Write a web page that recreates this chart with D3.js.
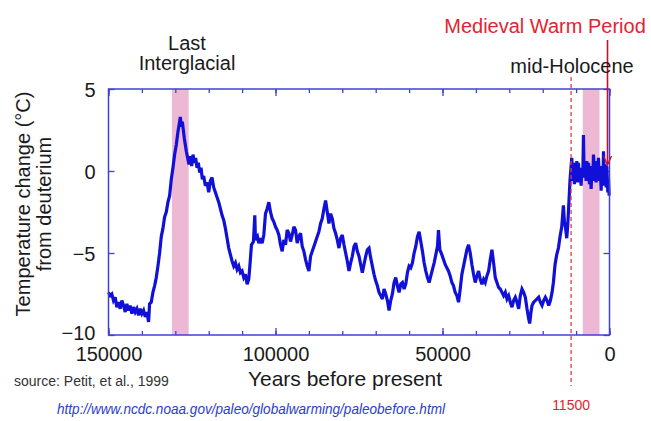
<!DOCTYPE html>
<html>
<head>
<meta charset="utf-8">
<script src="https://cdn.jsdelivr.net/npm/d3@7"></script>
<style>
  body { margin: 0; background: #fff; }
  text { font-family: "Liberation Sans", Arial, Helvetica, sans-serif; }
</style>
</head>
<body>
<div id="content"></div>
<script>
// Vostok deuterium temperature record (years BP, degC)
var years = [150000,149500,149000,148500,148000,147500,147000,146500,146000,145500,145000,144500,144000,143500,143000,142500,142000,141500,141000,140500,140000,139500,139000,138500,138000,137700,137200,136700,136200,135700,135200,134700,134200,133700,133200,132700,132200,131700,131200,130700,130200,129700,129200,128800,128500,128200,127900,127600,127300,127000,126700,126300,125900,125500,125100,124700,124300,123900,123500,123100,122700,122300,121900,121500,121000,120500,120000,119500,119000,118500,118000,117500,117000,116500,116000,115500,115000,114500,114000,113500,113000,112500,112000,111500,111000,110500,110000,109500,109000,108500,108000,107600,107200,106600,106200,106000,105400,105000,104500,104000,103500,103000,102500,102000,101500,101000,100500,100000,99500,99000,98500,98000,97500,97000,96500,96000,95500,95000,94500,94000,93500,93000,92500,92000,91500,91000,90500,90000,89500,89000,88500,88000,87500,87000,86500,86000,85500,85000,84500,84000,83500,83000,82500,82000,81500,81000,80500,80000,79500,79000,78500,78000,77500,77000,76500,76000,75500,75000,74500,74000,73500,73000,72500,72000,71500,71000,70500,70000,69500,69000,68500,68000,67500,67000,66500,66000,65500,65000,64500,64000,63500,63000,62500,62000,61500,61000,60500,60000,59500,59000,58500,58000,57500,57000,56500,56000,55500,55000,54500,54000,53500,53000,52500,52000,51500,51200,50800,50200,49700,49200,48700,48200,47700,47200,46700,46200,45700,45200,44700,44200,43700,43200,42700,42200,41700,41200,40700,40200,39700,39200,38700,38200,37700,37200,36700,36200,35700,35200,34700,34200,33700,33200,32700,32200,31700,31200,30700,30200,29700,29200,28700,28200,27700,27200,26700,26200,25700,25200,24700,24200,23900,23500,23200,22700,22200,21700,21200,20700,20200,19700,19200,18700,18200,17700,17200,16800,16300,15800,15300,14800,14300,13800,13500,13200,12800,12500,12300,11800,11300,11000,10800,10500,10300,10000,9800,9500,9300,9000,8800,8500,8300,8000,7800,7600,7300,7000,6800,6500,6300,6000,5800,5500,5300,5000,4800,4500,4300,4000,3800,3500,3300,3000,2800,2500,2300,2000,1800,1500,1300,1000,800,500,300,100];
var temps = [-7.4,-7.6,-7.5,-7.9,-7.7,-8.3,-8.0,-8.4,-7.9,-8.2,-8.6,-8.1,-8.5,-8.2,-8.7,-8.3,-8.6,-8.4,-8.8,-8.4,-8.7,-8.5,-8.9,-8.6,-9.2,-8.1,-8.0,-7.4,-7.0,-6.5,-5.8,-5.0,-4.0,-3.5,-2.8,-2.5,-1.9,-1.5,-0.5,0.2,1.0,1.6,2.4,2.9,3.3,2.7,3.0,2.5,2.0,1.6,1.2,0.8,0.4,0.9,0.3,1.0,0.5,0.8,0.2,0.5,-0.1,0.2,-0.5,-0.3,-0.9,-0.7,-1.3,-0.6,-0.4,-1.0,-1.3,-1.6,-1.9,-2.3,-2.7,-3.0,-3.5,-4.1,-4.7,-5.1,-5.5,-5.8,-5.6,-6.0,-5.8,-6.2,-6.1,-6.5,-6.3,-6.9,-6.6,-5.6,-4.5,-4.3,-2.7,-4.2,-4.0,-4.4,-4.1,-4.4,-3.9,-2.6,-2.3,-1.9,-2.5,-2.9,-3.1,-3.4,-3.6,-3.9,-4.5,-4.9,-4.2,-4.5,-3.6,-3.8,-4.3,-3.9,-3.4,-3.6,-4.4,-4.0,-3.8,-4.6,-4.9,-5.4,-5.8,-6.1,-5.2,-4.9,-4.6,-4.3,-4.0,-3.7,-3.2,-2.9,-2.3,-1.8,-2.5,-3.2,-2.6,-2.9,-3.5,-3.8,-4.2,-4.7,-4.1,-3.9,-4.5,-5.0,-5.5,-6.1,-5.6,-5.2,-4.6,-4.4,-4.9,-5.2,-5.7,-6.2,-5.7,-5.2,-4.8,-4.7,-5.3,-5.8,-6.3,-6.7,-7.0,-7.4,-7.6,-7.8,-7.2,-7.5,-7.9,-8.5,-7.9,-7.5,-6.8,-6.5,-7.0,-7.4,-6.9,-6.8,-7.2,-6.9,-6.2,-5.8,-5.9,-5.6,-5.0,-4.6,-4.0,-3.7,-4.3,-4.9,-5.6,-6.1,-6.5,-6.8,-6.4,-6.0,-5.6,-5.1,-4.6,-3.6,-4.8,-5.1,-5.4,-5.7,-5.9,-6.1,-6.4,-6.8,-7.0,-7.4,-7.6,-8.0,-7.2,-6.3,-5.8,-5.3,-4.8,-4.5,-5.0,-5.7,-6.3,-6.8,-6.4,-6.1,-6.6,-6.9,-6.6,-6.8,-6.4,-6.1,-5.4,-4.8,-5.6,-6.5,-6.8,-7.1,-7.2,-7.4,-7.6,-7.4,-7.8,-7.6,-8.0,-8.3,-7.9,-7.7,-8.0,-8.4,-7.6,-7.2,-7.4,-7.7,-8.4,-9.0,-9.3,-8.6,-8.2,-8.0,-7.9,-7.8,-7.7,-8.0,-8.2,-7.9,-7.7,-7.9,-8.2,-7.9,-7.4,-6.8,-5.7,-5.1,-4.7,-4.0,-3.4,-2.1,-3.1,-3.4,-4.1,-3.3,-2.5,-0.5,0.8,-0.6,0.5,-0.8,0.3,-0.5,0.6,-0.7,0.5,-0.6,0.2,-0.9,0.1,-0.4,2.2,-0.3,0.5,-0.6,0.6,-0.5,0.5,-0.8,0.3,-1.1,0.0,-0.6,1.0,-0.4,0.5,-0.7,0.6,-0.3,0.8,-0.6,0.3,-1.2,0.2,-0.9,1.2,-0.8,0.4,-1.0,0.3,-1.3,-0.5,-1.5];

var xMinor = d3.range(0, 150001, 10000);
var xMajor = [150000, 100000, 50000, 0];
var yTicks = [5, 0, -5, -10];
var bands = [[131000, 126000], [8000, 3000]];
var holoceneStart = 11500;
var medievalYear = 300;

var plotLeft = 108.5, plotRight = 609.5, plotTop = 89, plotBottom = 335;

var svg = d3.select("div#content").append("svg")
  .attr("width", 651)
  .attr("height", 421);

var x = d3.scaleLinear().domain([150000, 0]).range([plotLeft, plotRight]);
var y = d3.scaleLinear().domain([-10, 5]).range([plotBottom, plotTop]);

var frameColor = "#4040d4";

// pink bands
svg.selectAll(".band")
  .data(bands)
  .enter().append("rect")
  .attr("class", "band")
  .attr("x", function(d) { return x(d[0]); })
  .attr("width", function(d) { return x(d[1]) - x(d[0]); })
  .attr("y", plotTop)
  .attr("height", plotBottom - plotTop)
  .attr("fill", "#ecb8d4");

// minor ticks top/bottom
svg.append("g")
  .attr("transform", "translate(0," + plotBottom + ")")
  .call(d3.axisBottom(x).tickValues(xMinor).tickSizeInner(-4).tickSizeOuter(0).tickFormat(""));
svg.append("g")
  .attr("transform", "translate(0," + plotTop + ")")
  .call(d3.axisTop(x).tickValues(xMinor).tickSizeInner(-4).tickSizeOuter(0).tickFormat(""));
svg.append("g")
  .attr("transform", "translate(0," + plotTop + ")")
  .call(d3.axisTop(x).tickValues(xMajor).tickSizeInner(-7).tickSizeOuter(0).tickFormat(""));

// major ticks + labels
svg.append("g")
  .attr("class", "xaxis")
  .attr("transform", "translate(0," + plotBottom + ")")
  .call(d3.axisBottom(x).tickValues(xMajor).tickSizeInner(-7).tickSizeOuter(0).tickPadding(12).tickFormat(d3.format("d")));

svg.append("g")
  .attr("class", "yaxis")
  .attr("transform", "translate(" + plotLeft + ",0)")
  .call(d3.axisLeft(y).tickValues(yTicks).tickSizeInner(-6).tickSizeOuter(0).tickPadding(13));
svg.append("g")
  .attr("transform", "translate(" + plotRight + ",0)")
  .call(d3.axisRight(y).tickValues(yTicks).tickSizeInner(-6).tickSizeOuter(0).tickFormat(""));

svg.selectAll(".domain").remove();
svg.selectAll(".tick line").attr("stroke", frameColor).attr("stroke-width", 1.3);
svg.selectAll(".xaxis text, .yaxis text")
  .attr("fill", "#1a1a1a")
  .style("font-size", "20px")
  .style("font-family", "'Liberation Sans', Arial, sans-serif");
svg.selectAll(".yaxis .tick text").attr("dy", "0.36em");
svg.selectAll(".yaxis .tick text").filter(function(d) { return d === -10; }).attr("dy", "0.2em");

// data line
var line = d3.line()
  .x(function(d, i) { return x(years[i]); })
  .y(function(d) { return y(d); });

svg.append("path")
  .datum(temps)
  .attr("d", line)
  .attr("fill", "none")
  .attr("stroke", "#1010d8")
  .attr("stroke-width", 3.2)
  .attr("stroke-linejoin", "miter")
  .attr("stroke-miterlimit", 3);

// frame
svg.append("rect")
  .attr("x", plotLeft)
  .attr("y", plotTop)
  .attr("width", plotRight - plotLeft)
  .attr("height", plotBottom - plotTop)
  .attr("fill", "none")
  .attr("stroke", frameColor)
  .attr("stroke-width", 1.5);

// 11500 dashed marker
svg.append("line")
  .attr("x1", x(holoceneStart)).attr("x2", x(holoceneStart))
  .attr("y1", 77).attr("y2", 386)
  .attr("stroke", "#ee3b3b")
  .attr("stroke-width", 1.3)
  .attr("stroke-dasharray", "4,3");

svg.append("text")
  .attr("x", x(holoceneStart))
  .attr("y", 410)
  .attr("text-anchor", "middle")
  .attr("fill", "#e0242c")
  .style("font-size", "14px")
  .text("11500");

// Medieval Warm Period arrow
var ax = x(medievalYear) - 1;
svg.append("line")
  .attr("x1", ax).attr("x2", ax)
  .attr("y1", 40).attr("y2", 164)
  .attr("stroke", "#c8102a")
  .attr("stroke-width", 1.6);
svg.append("path")
  .attr("d", d3.line()([[ax - 4, 156], [ax, 165], [ax + 4, 156]]))
  .attr("fill", "none")
  .attr("stroke", "#c8102a")
  .attr("stroke-width", 1.4);

svg.append("text")
  .attr("x", 545)
  .attr("y", 33)
  .attr("text-anchor", "middle")
  .attr("fill", "#e32430")
  .style("font-size", "20px")
  .text("Medieval Warm Period");

svg.append("text")
  .attr("x", 572)
  .attr("y", 73)
  .attr("text-anchor", "middle")
  .attr("fill", "#1a1a1a")
  .style("font-size", "20px")
  .text("mid-Holocene");

svg.append("text")
  .attr("x", 187)
  .attr("y", 50)
  .attr("text-anchor", "middle")
  .attr("fill", "#1a1a1a")
  .style("font-size", "20px")
  .text("Last");
svg.append("text")
  .attr("x", 187)
  .attr("y", 70)
  .attr("text-anchor", "middle")
  .attr("fill", "#1a1a1a")
  .style("font-size", "20px")
  .text("Interglacial");

// axis titles
svg.append("text")
  .attr("transform", "translate(30,204) rotate(-90)")
  .attr("text-anchor", "middle")
  .attr("fill", "#1a1a1a")
  .style("font-size", "20px")
  .text("Temperature change (°C)");
svg.append("text")
  .attr("transform", "translate(51,204) rotate(-90)")
  .attr("text-anchor", "middle")
  .attr("fill", "#1a1a1a")
  .style("font-size", "20px")
  .text("from deuterium");

svg.append("text")
  .attr("x", 345)
  .attr("y", 386)
  .attr("text-anchor", "middle")
  .attr("fill", "#1a1a1a")
  .style("font-size", "21px")
  .text("Years before present");

svg.append("text")
  .attr("x", 14)
  .attr("y", 386)
  .attr("fill", "#333")
  .style("font-size", "14px")
  .text("source: Petit, et al., 1999");

svg.append("text")
  .attr("x", 57)
  .attr("y", 414)
  .attr("fill", "#2a40c8")
  .attr("textLength", 388)
  .attr("lengthAdjust", "spacingAndGlyphs")
  .style("font-size", "14px")
  .style("font-style", "italic")
  .text("http://www.ncdc.noaa.gov/paleo/globalwarming/paleobefore.html");
</script>
</body>
</html>
